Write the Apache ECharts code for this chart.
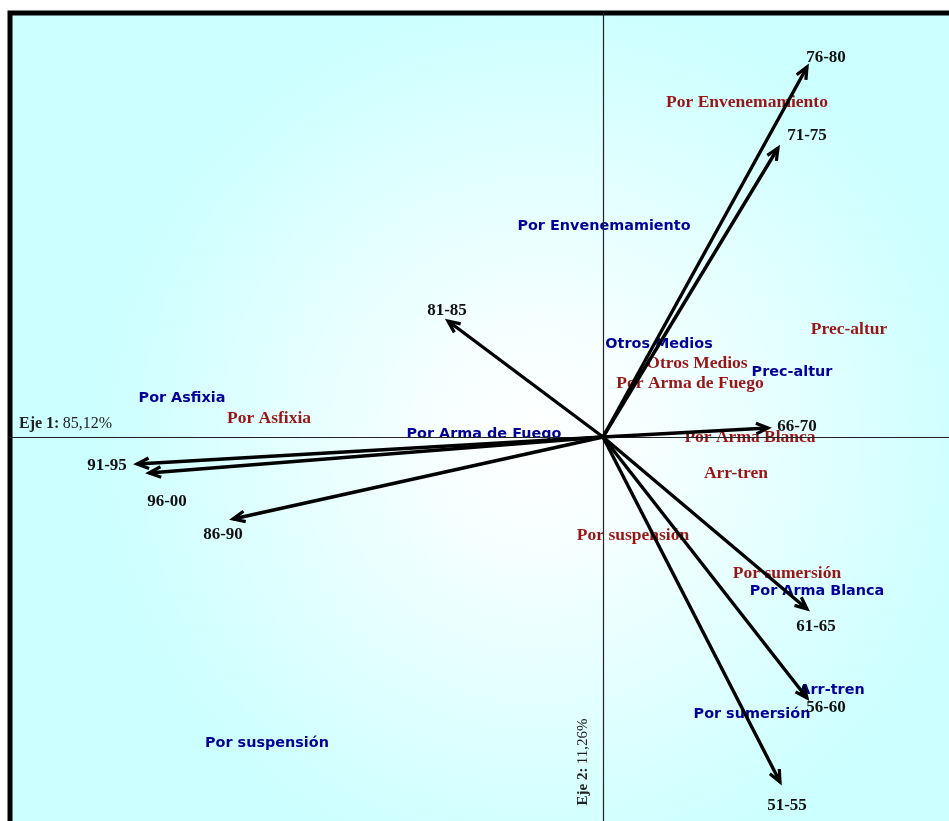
<!DOCTYPE html>
<html>
<head>
<meta charset="utf-8">
<script src="https://cdn.jsdelivr.net/npm/echarts@6/dist/echarts.min.js"></script>
<style>
  html, body { margin: 0; padding: 0; background: #ffffff; }
  #chart { width: 949px; height: 821px; }
</style>
</head>
<body>
<div id="chart"></div>
<script>
// Five-year periods (row profiles): coordinates on axis 1 and axis 2
const periods      = ['51-55', '56-60', '61-65', '66-70', '71-75', '76-80', '81-85', '86-90', '91-95', '96-00'];
const periodAxis1  = [0.354, 0.408, 0.408, 0.330, 0.350, 0.408, -0.310, -0.740, -0.932, -0.908];
const periodAxis2  = [-0.690, -0.522, -0.344, 0.018, 0.578, 0.740, 0.232, -0.164, -0.054, -0.072];

// Causes, first set (blue)
const causesBlue      = ['Por Envenemamiento', 'Otros Medios', 'Prec-altur', 'Por Asfixia', 'Por Arma de Fuego',
                         'Por Arma Blanca', 'Arr-tren', 'Por sumersión', 'Por suspensión'];
const causesBlueAxis1 = [0.002, 0.112, 0.378, -0.842, -0.238, 0.428, 0.458, 0.298, -0.672];
const causesBlueAxis2 = [0.422, 0.186, 0.130, 0.078, 0.006, -0.308, -0.506, -0.554, -0.612];

// Causes, second set (dark red)
const causesRed       = ['Por Envenemamiento', 'Prec-altur', 'Otros Medios', 'Por Arma de Fuego', 'Por Arma Blanca',
                         'Arr-tren', 'Por Asfixia', 'Por suspensión', 'Por sumersión'];
const causesRedAxis1  = [0.288, 0.492, 0.188, 0.174, 0.294, 0.266, -0.668, 0.060, 0.368];
const causesRedAxis2  = [0.670, 0.216, 0.148, 0.108, 0.000, -0.072, 0.038, -0.196, -0.272];

// Axis inertia
const axis1Name = 'Eje 1:';
const axis1Inertia = '85,12%';
const axis2Name = 'Eje 2:';
const axis2Inertia = '11,26%';

// ---- presentation ----
// pixel nudges of the period labels relative to their arrow tips
const periodLabelNudge = [[7, 24], [19, 10], [9, 18], [29, -1], [29, -12], [19, -9], [-1, -10], [-10, 16], [-30, 2], [18, 29]];

const BLUE = '#000099';
const RED = '#991515';
const serif = '"Liberation Serif", "Times New Roman", serif';
const sans = '"DejaVu Sans", Verdana, sans-serif';

const chart = echarts.init(document.getElementById('chart'), null, { renderer: 'canvas' });

function textLayer(names, xs, ys, font, color, z) {
  return {
    type: 'custom',
    coordinateSystem: 'cartesian2d',
    z: z,
    silent: true,
    clip: false,
    data: xs.map((x, i) => [x, ys[i]]),
    renderItem: function (params, api) {
      const p = api.coord([api.value(0), api.value(1)]);
      return {
        type: 'text',
        x: p[0], y: p[1],
        style: { text: names[params.dataIndex], font: font, fill: color, align: 'center', verticalAlign: 'middle' }
      };
    }
  };
}

const arrowSeries = {
  type: 'custom',
  coordinateSystem: 'cartesian2d',
  z: 6,
  silent: true,
  clip: false,
  data: periodAxis1.map((x, i) => [x, periodAxis2[i]]),
  renderItem: function (params, api) {
    const o = api.coord([0, 0]);
    const t = api.coord([api.value(0), api.value(1)]);
    const ang = Math.atan2(t[1] - o[1], t[0] - o[0]);
    const len = 13, spread = 0.42;
    const a1 = [t[0] - len * Math.cos(ang - spread), t[1] - len * Math.sin(ang - spread)];
    const a2 = [t[0] - len * Math.cos(ang + spread), t[1] - len * Math.sin(ang + spread)];
    const nudge = periodLabelNudge[params.dataIndex];
    return {
      type: 'group',
      children: [
        { type: 'line', shape: { x1: o[0], y1: o[1], x2: t[0], y2: t[1] },
          style: { stroke: '#000', lineWidth: 3.4, lineCap: 'butt' } },
        { type: 'polyline', shape: { points: [a1, t, a2] },
          style: { stroke: '#000', lineWidth: 3.2, fill: null, lineJoin: 'miter' } },
        { type: 'text', x: t[0] + nudge[0], y: t[1] + nudge[1],
          style: { text: periods[params.dataIndex], font: 'bold 17px ' + serif, fill: '#111',
                   align: 'center', verticalAlign: 'middle' } }
      ]
    };
  }
};

const option = {
  backgroundColor: '#ffffff',
  animation: false,
  grid: {
    left: 10, top: 13, width: 1000, height: 1000,
    outerBoundsMode: 'none',
    containLabel: false,
    show: true,
    borderColor: '#000',
    borderWidth: 5,
    backgroundColor: {
      type: 'radial', x: 0.53, y: 0.427, r: 0.44,
      colorStops: [
        { offset: 0, color: '#ffffff' },
        { offset: 0.25, color: '#f6ffff' },
        { offset: 1, color: '#ccffff' }
      ]
    }
  },
  xAxis: {
    type: 'value', min: -1.186, max: 0.814, z: 5,
    axisLine: { onZero: true, lineStyle: { color: '#222', width: 1.2 } },
    axisTick: { show: false }, axisLabel: { show: false }, splitLine: { show: false }
  },
  yAxis: {
    type: 'value', min: -1.152, max: 0.848, z: 5,
    axisLine: { onZero: true, lineStyle: { color: '#222', width: 1.2 } },
    axisTick: { show: false }, axisLabel: { show: false }, splitLine: { show: false }
  },
  graphic: [
    {
      type: 'text', left: 19, top: 416, z: 10,
      style: {
        text: '{b|' + axis1Name + '} {n|' + axis1Inertia + '}',
        rich: {
          b: { font: 'bold 16px ' + serif, fill: '#222' },
          n: { font: '16px ' + serif, fill: '#222' }
        }
      }
    },
    {
      type: 'text', x: 583, y: 762, rotation: Math.PI / 2, z: 10,
      style: {
        text: '{b|' + axis2Name + '} {n|' + axis2Inertia + '}',
        align: 'center', verticalAlign: 'middle',
        rich: {
          b: { font: 'bold 15px ' + serif, fill: '#222' },
          n: { font: '15px ' + serif, fill: '#222' }
        }
      }
    }
  ],
  series: [
    textLayer(causesRed, causesRedAxis1, causesRedAxis2, 'bold 17.5px ' + serif, RED, 2),
    textLayer(causesBlue, causesBlueAxis1, causesBlueAxis2, 'bold 14.4px ' + sans, BLUE, 2),
    arrowSeries
  ]
};

chart.setOption(option);
</script>
</body>
</html>
